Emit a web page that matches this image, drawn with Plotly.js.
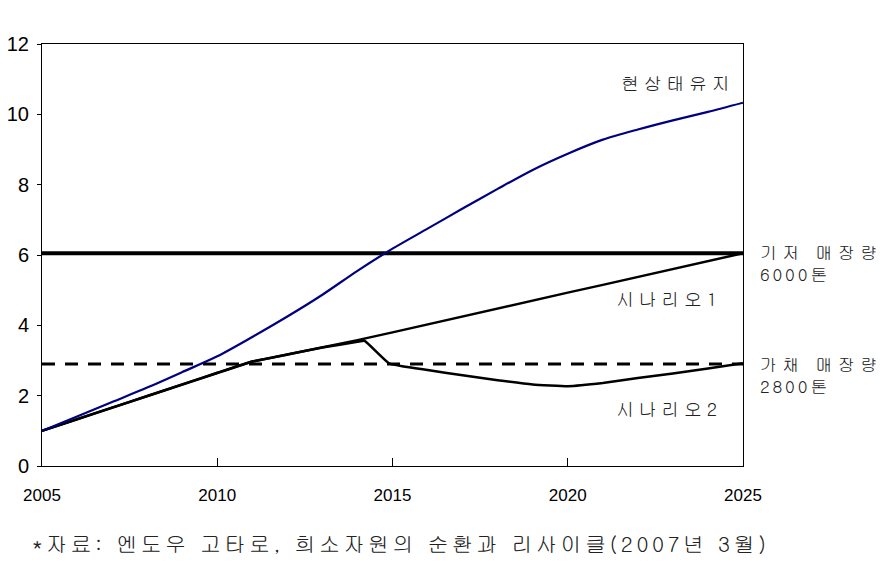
<!DOCTYPE html>
<html>
<head>
<meta charset="utf-8">
<script src="https://cdn.plot.ly/plotly-3.0.1.min.js"></script>
<style>
  html, body { margin: 0; padding: 0; background: #fff; }
  #chart { width: 890px; height: 573px; }
</style>
</head>
<body>
<div id="chart"></div>
<script>
// ---- data ----
const years = [2005,2006,2007,2008,2009,2010,2011,2012,2013,2014,2015,2016,2017,2018,2019,2020,2021,2022,2023,2024,2025];
const statusQuo = [1.0,1.41,1.82,2.23,2.67,3.12,3.67,4.25,4.87,5.55,6.18,6.75,7.32,7.88,8.42,8.88,9.28,9.57,9.83,10.07,10.33];
const scenario1 = [1.0,1.33,1.66,1.99,2.32,2.65,2.97,3.17,3.37,3.58,3.8,4.03,4.25,4.48,4.7,4.93,5.15,5.38,5.6,5.83,6.05];
const scenario2Years = [2005,2006,2007,2008,2009,2010,2011,2012,2013,2014,2014.2,2014.9,2016,2017,2018,2019,2020,2021,2022,2023,2024,2025];
const scenario2 = [1.0,1.33,1.66,1.99,2.32,2.65,2.97,3.17,3.37,3.53,3.56,2.92,2.73,2.58,2.44,2.32,2.27,2.36,2.5,2.63,2.77,2.92];
const baseReserveYears = [2005, 2025];
const baseReserve = [6.05, 6.05];
const recoverableYears = [2005, 2025];
const recoverable = [2.9, 2.9];
const xTicks = [2005, 2010, 2015, 2020, 2025];
const yTicks = [0, 2, 4, 6, 8, 10, 12];

const labelStatusQuo = '현상태유지';
const labelScenario1 = '시나리오1';
const labelScenario2 = '시나리오2';
const labelBase = '기저 매장량';
const labelBaseAmt = '6000톤';
const labelRec = '가채 매장량';
const labelRecAmt = '2800톤';
const caption = '*자료: 엔도우 고타로, 희소자원의 순환과 리사이클(2007년 3월)';

const kfont = 'Gulim, "Noto Sans CJK KR", sans-serif';

const traces = [
  {x: baseReserveYears, y: baseReserve, mode: 'lines', line: {color: '#000', width: 4}, hoverinfo: 'skip'},
  {x: recoverableYears, y: recoverable, mode: 'lines', line: {color: '#000', width: 3, dash: '13px,10px'}, hoverinfo: 'skip'},
  {x: years, y: scenario1, mode: 'lines', line: {color: '#000', width: 2.5}},
  {x: scenario2Years, y: scenario2, mode: 'lines', line: {color: '#000', width: 2.5, shape: 'spline', smoothing: 0.35}},
  {x: years, y: statusQuo, mode: 'lines', line: {color: '#000080', width: 2.2, shape: 'spline', smoothing: 0.8}}
];

function sp(text, spacing) {
  return '<span style="letter-spacing:' + spacing + 'px">' + text + '</span>';
}
function ann(html, px, py, anchor, size) {
  return {text: html, xref: 'paper', yref: 'paper',
          x: (px - 42) / 701, y: (466 - py) / 422,
          xanchor: anchor, yanchor: 'middle', align: anchor === 'left' ? 'left' : 'center',
          showarrow: false,
          font: {family: kfont, size: size, color: '#222'}};
}

const layout = {
  width: 890, height: 573,
  margin: {l: 42, r: 147, t: 44, b: 107},
  paper_bgcolor: '#fff', plot_bgcolor: '#fff',
  showlegend: false,
  xaxis: {
    range: [2005, 2025], tickvals: xTicks, ticktext: xTicks.map(String),
    ticks: 'inside', ticklen: 8, tickcolor: '#000', tickwidth: 1,
    showline: true, linecolor: '#000', linewidth: 1, mirror: true,
    showgrid: false, zeroline: false, ticklabelstandoff: 14,
    tickfont: {family: 'Arial, "Liberation Sans", sans-serif', size: 17, color: '#000'}
  },
  yaxis: {
    range: [0, 12], tickvals: yTicks, ticktext: yTicks.map(String),
    ticks: 'outside', ticklen: 4, tickcolor: '#000', tickwidth: 1,
    showline: true, linecolor: '#000', linewidth: 1, mirror: true,
    showgrid: false, zeroline: false, ticklabelstandoff: 4,
    tickfont: {family: 'Arial, "Liberation Sans", sans-serif', size: 20, color: '#000'}
  },
  annotations: [
    ann(sp(labelStatusQuo, 4.7), 678, 82, 'center', 18),
    ann(sp(labelScenario1, 4.7), 669, 298, 'center', 18),
    ann(sp(labelScenario2, 4.7), 669, 408, 'center', 18),
    ann(sp(labelBase, 5.3) + '<br>' + sp(labelBaseAmt, 2.8), 758, 263, 'left', 17),
    ann(sp(labelRec, 5.3) + '<br>' + sp(labelRecAmt, 2.8), 758, 375, 'left', 17),
    ann(sp(caption, 3.5), 401, 543, 'center', 21)
  ]
};

Plotly.newPlot('chart', traces, layout, {staticPlot: true, displayModeBar: false});
</script>
</body>
</html>
